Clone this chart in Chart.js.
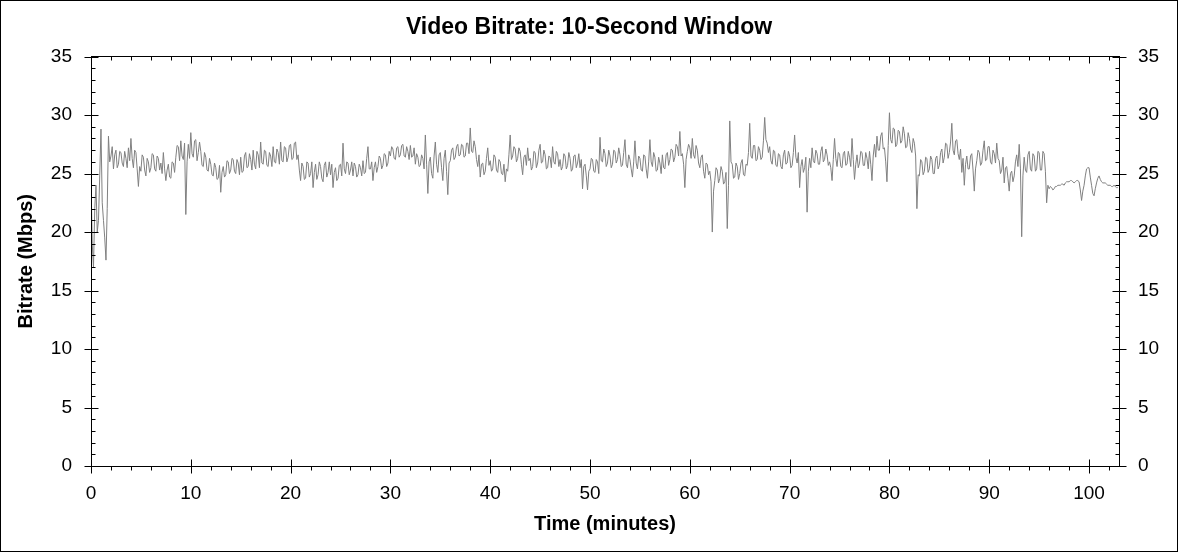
<!DOCTYPE html>
<html>
<head>
<meta charset="utf-8">
<script src="https://cdn.jsdelivr.net/npm/chart.js@4.4.1/dist/chart.umd.min.js"></script>
<style>
  html, body { margin: 0; padding: 0; background: #fff; }
  canvas { display: block; }
</style>
</head>
<body>
<canvas id="bitrateChart" width="1178" height="552"></canvas>
<script>
const TITLE = 'Video Bitrate: 10-Second Window';
const X_TITLE = 'Time (minutes)';
const Y_TITLE = 'Bitrate (Mbps)';
const X_MAX = 103;
const Y_MAX = 35;
const SAMPLE_STEP = 0.125; // minutes between samples

// Mbps, one row per minute (8 samples each)
const bitrate = [
  24.5, 19.0, 17.0, 22.0, 24.0, 20.0, 21.0, 24.8,
  28.8, 22.5, 21.0, 19.5, 17.6, 22.0, 28.2, 26.0,
  26.5, 27.3, 25.4, 26.6, 27.0, 25.5, 25.8, 26.9,
  26.8, 25.9, 25.6, 26.9, 26.3, 25.5, 27.2, 26.1,
  28.0, 26.3, 25.5, 27.0, 26.8, 25.4, 23.9, 25.6,
  25.2, 26.6, 26.4, 25.3, 24.8, 26.3, 26.0, 25.1,
  25.5, 26.7, 26.6, 25.4, 25.2, 26.5, 26.3, 25.3,
  25.9, 25.0, 26.8, 25.4, 24.4, 25.3, 25.8, 24.7,
  24.6, 26.0, 25.9, 25.1, 26.4, 27.4, 27.3, 26.1,
  27.8, 26.5, 26.2, 27.6, 21.5, 26.0, 27.5, 26.3,
  28.5, 26.7, 26.4, 27.8, 27.9, 26.1, 26.8, 27.7,  // 10
  26.9, 25.7, 25.6, 26.8, 26.4, 25.3, 25.2, 26.3,
  25.8, 24.9, 24.8, 25.9, 25.5, 24.5, 24.6, 25.7,
  23.4, 25.1, 25.6, 24.7, 24.9, 26.1, 26.0, 25.0,
  25.3, 26.3, 26.2, 25.2, 25.0, 26.2, 25.9, 24.9,
  26.4, 25.1, 25.2, 26.5, 26.8, 25.5, 25.6, 26.7,
  26.2, 25.3, 27.0, 25.8, 25.4, 26.9, 26.6, 25.5,
  27.7, 25.9, 25.8, 27.0, 26.9, 25.7, 25.6, 26.8,
  26.5, 25.6, 27.3, 26.0, 25.9, 27.1, 26.8, 25.8,
  27.7, 26.1, 26.0, 27.3, 27.2, 26.0, 26.4, 27.4,
  27.5, 26.2, 26.3, 27.6, 27.7, 26.2, 26.6, 25.3,  // 20
  24.4, 25.9, 25.6, 24.5, 24.6, 26.0, 25.9, 24.7,
  25.0, 26.0, 23.8, 25.1, 25.8, 24.5, 24.9, 26.0,
  25.6, 24.6, 24.3, 25.7, 26.0, 24.7, 25.1, 26.0,
  24.9, 25.8, 23.8, 25.1, 25.5, 24.4, 24.6, 25.7,
  25.8, 24.8, 27.6, 25.4, 25.0, 26.0, 25.9, 24.9,
  25.3, 26.0, 24.8, 25.9, 25.6, 24.7, 24.9, 25.8,
  25.5, 24.8, 26.1, 25.0, 25.1, 26.3, 27.3, 25.4,
  25.4, 26.0, 24.4, 25.5, 26.0, 25.1, 25.6, 26.5,
  26.3, 25.4, 25.7, 26.7, 26.6, 25.6, 25.9, 26.9,
  26.5, 27.3, 27.1, 26.3, 26.2, 27.2, 27.3, 26.4,  // 30
  26.6, 27.4, 27.5, 26.5, 26.4, 27.3, 26.9, 26.2,
  27.4, 26.4, 26.5, 27.2, 25.8, 26.7, 26.4, 25.6,
  25.7, 26.6, 26.3, 25.4, 28.3, 25.8, 23.3, 26.0,
  26.4, 25.0, 24.6, 26.5, 27.7, 25.8, 25.1, 26.6,
  26.8, 25.5, 24.4, 26.3, 27.0, 25.2, 23.2, 25.9,
  26.1, 27.0, 27.2, 26.2, 26.4, 27.3, 27.5, 26.5,
  26.6, 27.5, 27.4, 26.4, 26.5, 27.6, 27.6, 26.7,
  28.9, 26.9, 26.8, 27.8, 27.3, 26.2, 25.6, 26.6,
  24.7, 25.8, 25.9, 24.9, 25.2, 26.3, 27.2, 25.7,
  26.1, 25.2, 25.4, 26.6, 26.4, 25.3, 25.1, 26.2,  // 40
  26.0, 25.0, 24.9, 25.8, 24.3, 25.4, 25.2, 26.6,
  28.3, 26.2, 26.5, 27.3, 27.1, 26.0, 26.3, 27.2,
  26.9, 25.8, 24.9, 26.4, 26.6, 25.7, 27.2, 26.1,
  26.3, 25.3, 25.6, 26.9, 26.8, 25.5, 25.9, 27.0,
  27.5, 25.9, 26.0, 27.0, 26.6, 25.4, 25.5, 26.5,
  26.4, 25.5, 27.3, 26.0, 25.8, 26.9, 26.7, 25.6,
  26.2, 25.3, 25.6, 26.7, 26.5, 25.4, 25.7, 26.8,
  26.3, 25.2, 25.4, 26.5, 26.6, 25.5, 25.9, 26.7,
  25.5, 26.2, 23.7, 25.6, 25.8, 24.8, 23.6, 25.2,
  25.4, 26.3, 26.2, 25.2, 25.1, 26.2, 26.0, 25.0,  // 50
  28.1, 26.1, 26.0, 27.1, 26.7, 25.6, 25.9, 27.0,
  26.5, 25.5, 25.8, 27.0, 26.9, 25.9, 26.2, 27.2,
  26.6, 25.6, 25.7, 26.8, 27.9, 25.8, 25.5, 26.6,
  26.2, 25.4, 24.7, 26.0, 27.8, 25.9, 25.4, 26.5,
  26.3, 25.3, 25.2, 26.6, 26.5, 25.4, 24.6, 26.0,
  27.9, 26.0, 25.6, 26.8, 26.4, 25.2, 25.3, 26.4,
  25.9, 25.0, 26.6, 25.5, 25.4, 26.6, 26.8, 25.7,
  26.2, 27.1, 27.0, 26.0, 26.4, 27.5, 27.3, 26.5,
  28.6, 26.5, 26.7, 25.8, 23.8, 26.2, 26.9, 27.5,
  27.2, 26.3, 28.0, 26.6, 26.3, 27.4, 27.0, 25.9,  // 60
  25.5, 26.4, 26.6, 25.2, 24.6, 25.9, 25.8, 24.9,
  25.2, 24.3, 20.0, 23.5, 24.4, 25.5, 25.3, 24.2,
  24.6, 25.6, 25.2, 24.1, 24.3, 25.1, 20.3, 24.0,
  29.5, 26.0, 25.8, 24.6, 24.7, 25.9, 25.6, 24.5,
  25.0, 25.9, 26.2, 24.9, 24.8, 25.8, 25.7, 26.8,
  29.3, 26.5, 26.3, 27.4, 27.4, 26.1, 26.2, 27.3,
  27.0, 26.2, 26.4, 27.8, 29.8, 27.9, 27.6, 26.8,
  27.3, 26.1, 25.8, 27.0, 26.9, 25.7, 25.6, 26.7,
  26.6, 25.6, 25.4, 26.6, 27.0, 25.8, 25.9, 26.9,
  26.5, 25.5, 25.7, 26.8, 28.3, 26.4, 25.9, 26.8,  // 70
  23.8, 25.6, 26.2, 25.1, 25.5, 26.4, 21.7, 25.2,
  26.3, 25.5, 27.2, 26.1, 25.9, 27.0, 26.7, 25.8,
  25.8, 26.9, 27.3, 26.0, 26.2, 27.1, 26.6, 25.7,
  26.0, 25.5, 24.4, 26.2, 28.0, 26.3, 25.6, 26.8,
  26.7, 25.6, 25.5, 26.7, 26.9, 25.7, 25.8, 26.9,
  26.4, 25.6, 28.0, 26.2, 24.5, 25.8, 26.6, 25.5,
  25.9, 26.9, 26.8, 25.7, 25.7, 26.8, 26.3, 25.4,
  26.9, 25.8, 24.4, 26.5, 27.5, 26.4, 28.2, 27.0,
  27.0, 28.2, 28.5, 27.1, 27.2, 26.0, 24.3, 27.4,
  30.2, 27.9, 27.6, 28.9, 28.8, 27.3, 27.5, 28.7,  // 80
  28.6, 27.6, 27.8, 29.0, 28.4, 27.2, 27.3, 28.5,
  28.0, 27.1, 26.8, 28.0, 27.6, 26.5, 22.0, 24.9,
  24.8, 26.2, 26.0, 24.9, 25.2, 26.4, 26.3, 25.1,
  25.4, 26.5, 26.2, 25.0, 25.0, 26.3, 26.5, 25.4,
  25.7, 26.8, 27.1, 25.9, 26.4, 27.6, 27.5, 26.3,
  26.8, 27.7, 29.3, 27.0, 26.6, 27.8, 27.9, 26.7,
  26.2, 27.1, 25.1, 26.3, 24.0, 25.8, 26.5, 25.4,
  25.4, 26.5, 26.7, 25.3, 23.5, 25.4, 26.1, 27.0,
  26.8, 25.7, 25.9, 27.0, 27.8, 26.1, 26.2, 27.3,
  27.3, 26.0, 25.8, 27.0, 26.7, 25.9, 27.6, 26.3,  // 90
  26.1, 25.0, 25.3, 26.4, 24.2, 25.5, 25.6, 24.6,
  23.5, 25.0, 25.2, 24.3, 24.8, 26.0, 26.6, 25.6,
  27.5, 25.4, 19.6, 24.8, 26.4, 25.3, 25.1, 26.6,
  26.9, 25.4, 25.2, 26.7, 26.5, 25.2, 25.4, 26.9,
  26.8, 25.3, 25.3, 26.9, 26.7, 25.2, 22.5, 24.0,
  23.7, 23.9, 23.8, 23.6, 23.7, 23.9, 23.9, 24.0,
  24.0, 24.0, 24.1, 24.1, 24.0, 24.2, 24.3, 24.3,
  24.3, 24.4, 24.4, 24.3, 24.2, 24.3, 24.4, 24.4,
  24.3, 23.6, 22.7, 23.5, 24.0, 24.8, 25.4, 25.5,
  25.5, 24.7, 24.0, 23.3, 23.1, 23.7, 24.2, 24.6,  // 100
  24.8, 24.5, 24.3, 24.2, 24.2, 24.2, 24.1, 24.0,
  24.0, 24.0, 23.9, 23.9, 24.0, 23.9, 23.8, 23.8
];

const points = bitrate.map((v, i) => ({ x: i * SAMPLE_STEP, y: v }));

const FONT = "'Liberation Sans', Arial, sans-serif";

// box round the plot, outer border and the minor/major tick marks
const axisFrame = {
  id: 'axisFrame',
  afterDraw(chart) {
    const { ctx, chartArea: area } = chart;
    const xs = chart.scales.x, ys = chart.scales.y;
    const left = Math.floor(area.left) + 0.5;
    const right = Math.floor(area.right) + 0.5;
    const top = Math.floor(area.top) + 0.5;
    const bottom = Math.floor(area.bottom) + 0.5;
    ctx.save();
    ctx.strokeStyle = '#000';
    ctx.lineWidth = 1;
    ctx.strokeRect(0.5, 0.5, chart.width - 1, chart.height - 1);
    ctx.strokeRect(left, top, right - left, bottom - top);
    ctx.beginPath();
    for (let v = 0; v <= Y_MAX; v++) {
      const py = Math.round(ys.getPixelForValue(v)) + 0.5;
      const major = v % 5 === 0;
      ctx.moveTo(left - (major ? 7 : 0), py);
      ctx.lineTo(left + (major ? 7 : 4), py);
      ctx.moveTo(right - (major ? 7 : 4), py);
      ctx.lineTo(right + (major ? 7 : 0), py);
    }
    for (let v = 0; v <= X_MAX; v += 2) {
      const px = Math.round(xs.getPixelForValue(v)) + 0.5;
      const major = v % 10 === 0;
      ctx.moveTo(px, bottom - (major ? 7 : 0));
      ctx.lineTo(px, bottom + (major ? 7 : 4));
      ctx.moveTo(px, top);
      ctx.lineTo(px, top + (major ? 7 : 4));
    }
    ctx.stroke();
    ctx.restore();
  }
};

const tickFont = { family: FONT, size: 19 };
const titleFont = { family: FONT, size: 20, weight: 'bold' };

new Chart(document.getElementById('bitrateChart').getContext('2d'), {
  type: 'line',
  data: {
    datasets: [{
      data: points,
      borderColor: '#808080',
      borderWidth: 1,
      pointRadius: 0,
      tension: 0,
      fill: false
    }]
  },
  options: {
    responsive: false,
    animation: false,
    layout: { padding: 0 },
    plugins: {
      legend: { display: false },
      tooltip: { enabled: false },
      title: {
        display: true,
        text: TITLE,
        color: '#000',
        font: { family: FONT, size: 23, weight: 'bold' },
        padding: { top: 14, bottom: 15 }
      }
    },
    scales: {
      x: {
        type: 'linear',
        min: 0,
        max: X_MAX,
        afterFit: s => { s.height = 86; },
        grid: { display: false, drawTicks: false },
        border: { display: false },
        ticks: { stepSize: 10, includeBounds: false, color: '#000', font: tickFont, padding: 16, maxRotation: 0, autoSkip: false },
        title: { display: true, text: X_TITLE, color: '#000', font: titleFont, padding: { top: 0, bottom: 15.5 } }
      },
      y: {
        position: 'left',
        min: 0,
        max: Y_MAX,
        afterFit: s => { s.width = 91; },
        grid: { display: false, drawTicks: false },
        border: { display: false },
        ticks: { stepSize: 5, color: '#000', font: tickFont, padding: 19 },
        title: { display: true, text: Y_TITLE, color: '#000', font: titleFont, padding: { top: 14, bottom: 0 } }
      },
      y2: {
        position: 'right',
        min: 0,
        max: Y_MAX,
        afterFit: s => { s.width = 59; },
        grid: { display: false, drawTicks: false },
        border: { display: false },
        ticks: { stepSize: 5, color: '#000', font: tickFont, padding: 19 }
      }
    }
  },
  plugins: [axisFrame]
});
</script>
</body>
</html>
